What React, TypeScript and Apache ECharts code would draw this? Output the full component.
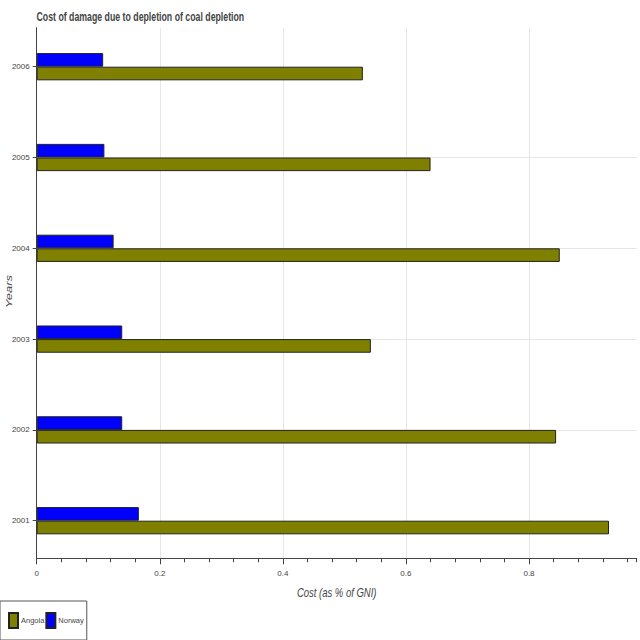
import React, { useEffect, useRef } from "react";
import * as echarts from "echarts";

const years = ["2001", "2002", "2003", "2004", "2005", "2006"];
const angola = [0.93, 0.844, 0.543, 0.85, 0.64, 0.53];
const norway = [0.166, 0.139, 0.139, 0.125, 0.11, 0.108];
const yearIdx = [0, 1, 2, 3, 4, 5];
const xMax = 0.975;
const titleText = "Cost of damage due to depletion of coal depletion";
const xName = "Cost (as % of GNI)";
const yName = "Years";

const SANS = "'Liberation Sans', Arial, Helvetica, sans-serif";
const TXT = "#444";
const SQUEEZE = 0.73;

export default function App() {
  const ref = useRef<HTMLDivElement>(null);
  useEffect(() => {
    document.body.style.margin = "0";
    const chart = echarts.init(ref.current!, null, { renderer: "svg" });
    const gridL = 36.7;
    const gridR = 3.3;
    const plotTop = 27.7;
    const plotBottom = 558.3;
    chart.setOption({
      animation: false,
      backgroundColor: "#fff",
      graphic: [
        {
          type: "text",
          x: 36.5,
          y: 10,
          scaleX: SQUEEZE,
          style: { text: titleText, fontFamily: SANS, fontSize: 12, fontWeight: "bold", fill: TXT },
        },
        {
          type: "text",
          x: gridL + (640 - gridR - gridL) / 2,
          y: 586,
          scaleX: SQUEEZE,
          style: {
            text: xName,
            fontFamily: SANS,
            fontSize: 13,
            fontStyle: "italic",
            fill: TXT,
            align: "center",
          },
        },
        {
          type: "text",
          x: 8.5,
          y: (plotTop + plotBottom) / 2 - 1.5,
          rotation: Math.PI / 2,
          scaleY: SQUEEZE,
          style: {
            text: yName,
            fontFamily: SANS,
            fontSize: 13,
            fontStyle: "italic",
            fill: TXT,
            align: "center",
            verticalAlign: "middle",
          },
        },
      ],
      legend: {
        data: ["Angola", "Norway"],
        left: 0,
        top: 601,
        orient: "horizontal",
        itemWidth: 9,
        itemHeight: 15,
        itemGap: 1,
        padding: [11, 3, 11, 8],
        borderColor: "#555",
        borderWidth: 1,
        borderRadius: 0,
        icon: "rect",
        textStyle: { fontFamily: SANS, fontSize: 7.5, color: TXT, padding: [0, 0, 0, -2] },
      },
      grid: [
        { left: gridL, right: gridR, top: 21.3, height: 544.8, outerBoundsMode: "none", containLabel: false },
        { left: gridL, right: gridR, top: plotTop, bottom: 640 - plotBottom, outerBoundsMode: "none", containLabel: false },
      ],
      xAxis: [
        {
          gridIndex: 0,
          type: "value",
          min: 0,
          max: xMax,
          show: false,
          splitLine: { show: false },
        },
        {
          gridIndex: 1,
          type: "value",
          min: 0,
          max: xMax,
          interval: 0.2,
          position: "bottom",
          axisLine: { show: true, onZero: false, lineStyle: { color: TXT, width: 1 } },
          axisTick: { show: true, length: 6, lineStyle: { color: TXT } },
          axisLabel: {
            fontFamily: SANS,
            fontSize: 8,
            color: TXT,
            margin: 11,
            showMaxLabel: false,
            formatter: (v: number) => (Math.abs(v / 0.2 - Math.round(v / 0.2)) < 1e-6 ? String(+v.toFixed(1)) : ""),
          },
          splitLine: { show: true, showMaxLine: false, lineStyle: { color: "#e6e6e6", width: 1 } },
        },
        {
          gridIndex: 1,
          type: "value",
          min: 0,
          max: xMax,
          interval: 0.04,
          position: "bottom",
          offset: 0,
          axisLine: { show: false, onZero: false },
          axisTick: { show: true, length: 4, lineStyle: { color: TXT } },
          axisLabel: { show: false },
          splitLine: { show: false },
        },
      ],
      yAxis: [
        {
          gridIndex: 0,
          type: "category",
          data: years,
          show: false,
          axisLine: { show: false },
          axisTick: { show: false },
          axisLabel: { show: false },
          splitLine: { show: false },
        },
        {
          gridIndex: 1,
          type: "value",
          min: -0.414,
          max: 5.43,
          axisLine: { show: true, onZero: false, lineStyle: { color: TXT, width: 1 } },
          axisTick: { show: true, length: 4, customValues: yearIdx, lineStyle: { color: TXT } },
          axisLabel: {
            customValues: yearIdx,
            fontFamily: SANS,
            fontSize: 8,
            color: TXT,
            margin: 7,
            formatter: (v: number) => years[Math.round(v)] ?? "",
          },
          splitLine: { show: true, showMinLine: false, showMaxLine: false, lineStyle: { color: "#e6e6e6", width: 1 } },
        },
      ],
      series: [
        {
          name: "Norway",
          type: "bar",
          xAxisIndex: 0,
          yAxisIndex: 0,
          data: norway,
          barWidth: "15%",
          barGap: "0%",
          itemStyle: { color: "#0000ff", borderColor: "#222", borderWidth: 1 },
        },
        {
          name: "Angola",
          type: "bar",
          xAxisIndex: 0,
          yAxisIndex: 0,
          data: angola,
          barWidth: "15%",
          barGap: "0%",
          itemStyle: { color: "#808000", borderColor: "#222", borderWidth: 1 },
        },
      ],
    });
    return () => chart.dispose();
  }, []);
  return <div ref={ref} style={{ width: 640, height: 640 }} />;
}
